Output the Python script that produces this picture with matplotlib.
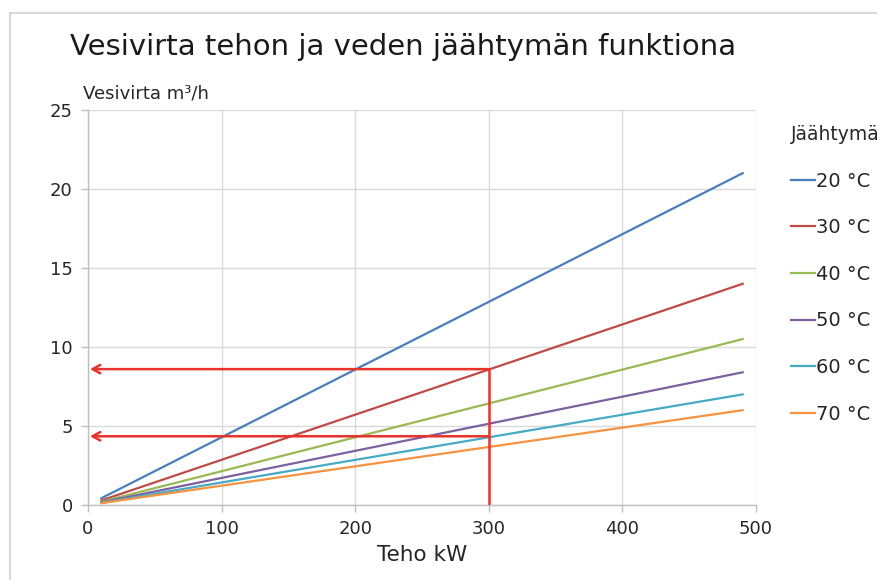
import matplotlib
matplotlib.use("Agg")
import matplotlib.pyplot as plt
from matplotlib.patches import Rectangle

# ---- data ----
power_kw = [10, 490]
cooling_labels = ["20 °C", "30 °C", "40 °C", "50 °C", "60 °C", "70 °C"]
flow_20 = [0.43, 21.0]
flow_30 = [0.29, 14.0]
flow_40 = [0.21, 10.5]
flow_50 = [0.17, 8.4]
flow_60 = [0.14, 7.0]
flow_70 = [0.12, 6.0]
series_flows = [flow_20, flow_30, flow_40, flow_50, flow_60, flow_70]
series_colors = ["#4A7EBB", "#BE4B48", "#98B954", "#7D60A0", "#46AAC5", "#F69240"]

example_power = 300
example_flows = [8.6, 4.35]
arrow_end_x = 1.5

x_ticks = [0, 100, 200, 300, 400, 500]
y_ticks = [0, 5, 10, 15, 20, 25]

W, H = 878, 580
fig = plt.figure(figsize=(W / 100, H / 100), dpi=100)
fig.patch.set_facecolor("white")

# outer chart frame
fig.patches.append(Rectangle((10 / W, -0.05), 1.0, 1 - 13 / H + 0.05,
                             transform=fig.transFigure, fill=False,
                             edgecolor="#D0D0D0", linewidth=1.2, zorder=0))

ax = fig.add_axes([88 / W, 1 - 505 / H, (756 - 88) / W, (505 - 110) / H])

for flows, col, lab in zip(series_flows, series_colors, cooling_labels):
    ax.plot(power_kw, flows, color=col, linewidth=1.6, label=lab, zorder=3)

red = "#E8322C"
ax.plot([example_power, example_power], [0, max(example_flows)], color=red,
        linewidth=1.8, zorder=4)
for fy in example_flows:
    ax.annotate("", xy=(arrow_end_x, fy), xytext=(example_power, fy),
                arrowprops=dict(arrowstyle="->,head_length=0.55,head_width=0.3",
                                color=red, linewidth=1.8, shrinkA=0, shrinkB=0),
                zorder=4)

ax.set_xlim(0, 500)
ax.set_ylim(0, 25)
ax.set_xticks(x_ticks)
ax.set_yticks(y_ticks)
ax.grid(True, color="#D9D9D9", linewidth=1.0, zorder=0)
ax.set_axisbelow(True)
for s in ["top", "right"]:
    ax.spines[s].set_visible(False)
for s in ["left", "bottom"]:
    ax.spines[s].set_color("#BFBFBF")
    ax.spines[s].set_linewidth(1.0)
ax.tick_params(axis="both", colors="#BFBFBF", labelcolor="#262626",
               labelsize=13, length=5, width=1.0)
ax.tick_params(axis="x", pad=6)
ax.tick_params(axis="y", pad=6)

ax.set_xlabel("Teho kW", fontsize=15.5, color="#262626", labelpad=5)

fig.text(70 / W, 1 - 55 / H, "Vesivirta tehon ja veden jäähtymän funktiona",
         fontsize=21, color="#1A1A1A", ha="left", va="baseline")
fig.text(83 / W, 1 - 98 / H, "Vesivirta m³/h", fontsize=13,
         color="#262626", ha="left", va="baseline")

leg = ax.legend(loc="upper left", bbox_to_anchor=(791 / W, 1 - 125 / H),
                bbox_transform=fig.transFigure, frameon=False,
                title="Jäähtymä", title_fontsize=13.5, fontsize=14,
                handlelength=1.25, handletextpad=0.05, labelspacing=1.42,
                alignment="left", borderaxespad=0, borderpad=0)
for t in leg.get_texts():
    t.set_color("#262626")
leg.get_title().set_color("#262626")

fig.savefig("out.png", dpi=100)
